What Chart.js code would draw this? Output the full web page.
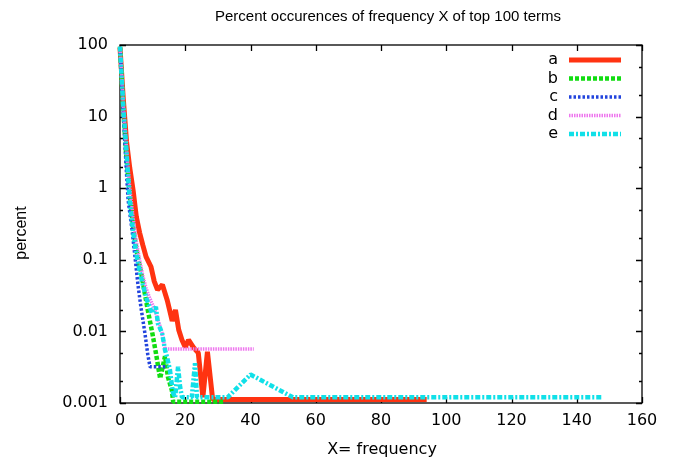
<!DOCTYPE html>
<html>
<head>
<meta charset="utf-8">
<script src="https://cdn.jsdelivr.net/npm/chart.js@4.4.1/dist/chart.umd.min.js"></script>
<style>
    html, body { margin: 0; padding: 0; background: #ffffff; }
    #wrap { width: 675px; height: 462px; }
</style>
</head>
<body>
<div id="wrap"><canvas id="freqChart" width="675" height="462"></canvas></div>
<script>
const chartTitle = 'Percent occurences of frequency X of top 100 terms';
const xAxisTitle = 'X= frequency';
const yAxisTitle = 'percent';
const seriesLabels = ['a', 'b', 'c', 'd', 'e'];
const xTickValues = [0, 20, 40, 60, 80, 100, 120, 140, 160];
const yTickValues = [0.001, 0.01, 0.1, 1, 10, 100];

// series a
const aX = [0, 1, 2, 3, 4, 5, 6, 7, 8, 9.5, 10.5, 11.5, 13, 14.5, 16, 17, 18, 19, 20, 21, 22.5, 24, 25.4, 26.8, 28.4, 94];
const aY = [92, 18, 4.5, 1.9, 0.95, 0.4, 0.24, 0.16, 0.11, 0.08, 0.05, 0.038, 0.045, 0.027, 0.014, 0.02, 0.0105, 0.0076, 0.006, 0.0076, 0.006, 0.005, 0.0012, 0.0052, 0.00112, 0.00112];

// series b
const bX = [0, 1, 2, 3, 4, 5, 6.5, 8.5, 10, 11, 12.3, 13.8, 14.7, 15.9, 16.3, 31.6];
const bY = [95, 13, 2.5, 0.8, 0.3, 0.14, 0.065, 0.02, 0.009, 0.005, 0.0022, 0.0045, 0.0023, 0.0015, 0.00104, 0.00104];

// series c
const cX = [0, 1, 2, 2.5, 3.7, 4.6, 5.5, 6.4, 7.7, 8.5, 9.2, 14.5];
const cY = [90, 11, 1.6, 0.68, 0.26, 0.11, 0.045, 0.022, 0.009, 0.0048, 0.0032, 0.0032];

// series d
const dX = [0, 1, 2, 3, 4, 5, 6, 7, 8, 9, 10.7, 12.9, 13.8, 41];
const dY = [95, 15, 3.5, 1.0, 0.4, 0.18, 0.1, 0.06, 0.04, 0.03, 0.02, 0.0095, 0.0057, 0.0057];

// series e
const eX = [0, 1, 2, 3, 4, 5, 6, 7, 8.3, 9.8, 11, 11.6, 12.9, 13.8, 14.4, 15.3, 16.2, 16.9, 17.8, 18.4, 19, 22, 23, 23.6, 33, 40, 53, 148];
const eY = [95, 14, 3.2, 0.65, 0.25, 0.12, 0.07, 0.045, 0.027, 0.018, 0.022, 0.013, 0.0095, 0.0055, 0.0044, 0.0029, 0.0014, 0.0012, 0.0032, 0.0017, 0.0012, 0.0012, 0.0036, 0.0012, 0.0012, 0.0025, 0.0012, 0.0012];

const seriesX = [aX, bX, cX, dX, eX];
const seriesY = [aY, bY, cY, dY, eY];

const seriesStyles = [
    { color: '#ff3311', width: 5, dash: [] },
    { color: '#11dd11', width: 4.5, dash: [4, 2] },
    { color: '#2244dd', width: 3.5, dash: [2.5, 2] },
    { color: '#ee77ee', width: 3.5, dash: [1.5, 1] },
    { color: '#11e0e8', width: 4.5, dash: [5, 2, 2, 2] }
];

const fontFamily = '"DejaVu Sans", sans-serif';
const titleFamily = '"Liberation Sans", Arial, sans-serif';

function toPoints(xs, ys) {
    return xs.map((x, i) => ({ x: x, y: ys[i] }));
}

const datasets = seriesLabels.map((label, i) => ({
    label: label,
    data: toPoints(seriesX[i], seriesY[i]),
    borderColor: seriesStyles[i].color,
    backgroundColor: seriesStyles[i].color,
    borderWidth: seriesStyles[i].width,
    borderDash: seriesStyles[i].dash,
    borderCapStyle: 'butt',
    borderJoinStyle: 'bevel',
    pointRadius: 0,
    tension: 0,
    fill: false,
    clip: 8,
    order: seriesLabels.length - i
}));

// Frame with inward ticks, mirrored on all four sides
const framePlugin = {
    id: 'frame',
    beforeDatasetsDraw(chart) {
        const { ctx, chartArea, scales } = chart;
        const { left, right, top, bottom } = chartArea;
        ctx.save();
        ctx.strokeStyle = '#000000';
        ctx.lineWidth = 1.3;
        ctx.strokeRect(left, top, right - left, bottom - top);
        ctx.beginPath();
        xTickValues.forEach((v) => {
            const px = Math.round(scales.x.getPixelForValue(v)) + 0.5;
            ctx.moveTo(px, bottom);
            ctx.lineTo(px, bottom - 6);
            ctx.moveTo(px, top);
            ctx.lineTo(px, top + 6);
        });
        yTickValues.forEach((v) => {
            const py = Math.round(scales.y.getPixelForValue(v)) + 0.5;
            ctx.moveTo(left, py);
            ctx.lineTo(left + 6, py);
            ctx.moveTo(right, py);
            ctx.lineTo(right - 6, py);
            if (v < 100) {
                [2, 5].forEach((m) => {
                    const pm = Math.round(scales.y.getPixelForValue(v * m)) + 0.5;
                    ctx.moveTo(left, pm);
                    ctx.lineTo(left + 3, pm);
                    ctx.moveTo(right, pm);
                    ctx.lineTo(right - 3, pm);
                });
            }
        });
        ctx.stroke();
        ctx.restore();
    }
};

// Title, axis titles and key
const textPlugin = {
    id: 'texts',
    afterDraw(chart) {
        const ctx = chart.ctx;
        ctx.save();
        ctx.fillStyle = '#000000';
        ctx.textAlign = 'center';
        ctx.textBaseline = 'middle';
        ctx.font = '15px ' + titleFamily;
        ctx.fillText(chartTitle, 388, 17);
        ctx.font = '16px ' + fontFamily;
        ctx.fillText(xAxisTitle, 382, 450);

        ctx.save();
        ctx.translate(22, 233);
        ctx.rotate(-Math.PI / 2);
        ctx.font = '16px ' + titleFamily;
        ctx.fillText(yAxisTitle, 0, 0);
        ctx.restore();

        ctx.font = '16px ' + fontFamily;
        ctx.textAlign = 'right';
        chart.data.datasets.forEach((ds, i) => {
            const rowY = 60 + i * 18.5;
            ctx.fillStyle = '#000000';
            ctx.fillText(ds.label, 558, rowY);
            ctx.beginPath();
            ctx.strokeStyle = ds.borderColor;
            ctx.lineWidth = ds.borderWidth;
            ctx.setLineDash(ds.borderDash);
            ctx.lineCap = 'butt';
            ctx.moveTo(569, rowY);
            ctx.lineTo(621, rowY);
            ctx.stroke();
            ctx.setLineDash([]);
        });
        ctx.restore();
    }
};

const ctx = document.getElementById('freqChart').getContext('2d');

new Chart(ctx, {
    type: 'line',
    data: { datasets: datasets },
    options: {
        responsive: false,
        animation: false,
        devicePixelRatio: 1,
        layout: { padding: { left: 0, right: 33, top: 45, bottom: 0 } },
        plugins: {
            legend: { display: false },
            title: { display: false },
            tooltip: { enabled: false }
        },
        scales: {
            x: {
                type: 'linear',
                min: 0,
                max: 160,
                afterBuildTicks: (axis) => { axis.ticks = xTickValues.map((v) => ({ value: v })); },
                afterFit: (axis) => { axis.height = 59; },
                grid: { display: false, drawTicks: false },
                border: { display: false },
                ticks: {
                    padding: 8,
                    color: '#000000',
                    font: { family: fontFamily, size: 16 },
                    maxRotation: 0,
                    callback: (v) => String(v)
                }
            },
            y: {
                type: 'logarithmic',
                min: 0.001,
                max: 100,
                afterBuildTicks: (axis) => { axis.ticks = yTickValues.map((v) => ({ value: v })); },
                afterFit: (axis) => { axis.width = 120; },
                grid: { display: false, drawTicks: false },
                border: { display: false },
                ticks: {
                    padding: 12,
                    color: '#000000',
                    font: { family: fontFamily, size: 16 },
                    callback: (v) => String(v)
                }
            }
        }
    },
    plugins: [framePlugin, textPlugin]
});
</script>
</body>
</html>
